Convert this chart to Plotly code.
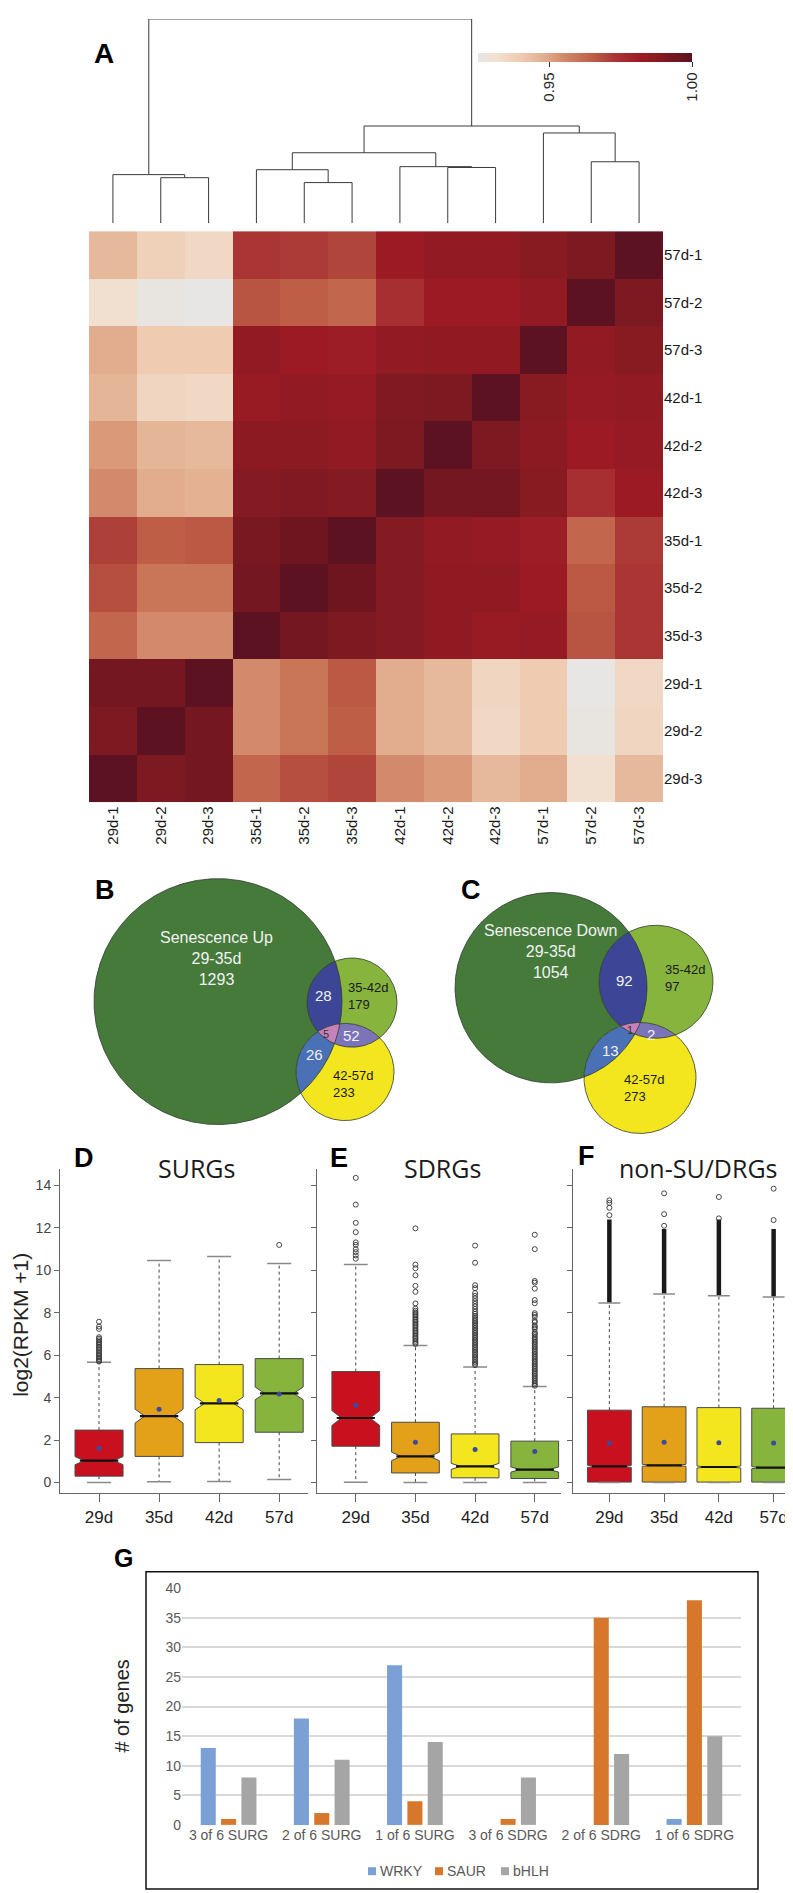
import numpy as np
import plotly.graph_objects as go

W, H = 793, 1893
FONT = 'Liberation Sans, Arial, sans-serif'


def fx(x):
    return x / W


def fy(y):
    return 1 - y / H


# ---------------- A: sample correlation heatmap ----------------
col_labels = ['29d-1', '29d-2', '29d-3', '35d-1', '35d-2', '35d-3',
              '42d-1', '42d-2', '42d-3', '57d-1', '57d-2', '57d-3']
row_labels = ['57d-1', '57d-2', '57d-3', '42d-1', '42d-2', '42d-3',
              '35d-1', '35d-2', '35d-3', '29d-1', '29d-2', '29d-3']
corr = [
    [0.945, 0.938, 0.935, 0.973, 0.972, 0.970, 0.982, 0.985, 0.985, 0.988, 0.991, 1.000],
    [0.932, 0.926, 0.925, 0.967, 0.965, 0.963, 0.975, 0.982, 0.982, 0.985, 1.000, 0.991],
    [0.948, 0.940, 0.940, 0.985, 0.982, 0.981, 0.985, 0.986, 0.986, 1.000, 0.985, 0.988],
    [0.946, 0.936, 0.935, 0.983, 0.985, 0.984, 0.990, 0.991, 1.000, 0.988, 0.984, 0.985],
    [0.952, 0.946, 0.945, 0.987, 0.987, 0.985, 0.991, 1.000, 0.991, 0.987, 0.982, 0.984],
    [0.955, 0.948, 0.947, 0.989, 0.990, 0.989, 1.000, 0.993, 0.993, 0.988, 0.975, 0.982],
    [0.971, 0.965, 0.966, 0.992, 0.995, 1.000, 0.989, 0.985, 0.984, 0.981, 0.963, 0.972],
    [0.968, 0.960, 0.960, 0.993, 1.000, 0.995, 0.989, 0.986, 0.986, 0.982, 0.966, 0.973],
    [0.963, 0.955, 0.955, 1.000, 0.993, 0.991, 0.989, 0.986, 0.983, 0.984, 0.967, 0.973],
    [0.993, 0.993, 1.000, 0.955, 0.960, 0.966, 0.948, 0.945, 0.936, 0.940, 0.925, 0.935],
    [0.991, 1.000, 0.993, 0.955, 0.960, 0.965, 0.948, 0.945, 0.935, 0.940, 0.926, 0.936],
    [1.000, 0.991, 0.993, 0.963, 0.968, 0.970, 0.955, 0.952, 0.945, 0.948, 0.932, 0.945],
]
cbar_ticks = [0.95, 1.00]
ZMIN, ZMAX = 0.925, 1.0

# column dendrogram: (left node, right node, height); leaves 0..11, new nodes from 12
dendro_merges = [
    (1, 2, 0.223),
    (0, 12, 0.238),
    (4, 5, 0.199),
    (3, 14, 0.262),
    (7, 8, 0.273),
    (6, 16, 0.277),
    (15, 17, 0.345),
    (10, 11, 0.301),
    (9, 19, 0.442),
    (18, 20, 0.476),
    (13, 21, 1.000),
]

# ---------------- B / C: Venn counts ----------------
# order: big only, mid only, low only, big&mid, big&low, mid&low, all three
venn_b_counts = [1293, 179, 233, 28, 26, 52, 5]
venn_c_counts = [1054, 97, 273, 92, 13, 2, 1]
venn_b_name = 'Senescence Up'
venn_c_name = 'Senescence Down'
venn_sets = ['29-35d', '35-42d', '42-57d']

# ---------------- D / E / F: boxplots ----------------
days = ['29d', '35d', '42d', '57d']

surg_q1 = [0.30, 1.23, 1.88, 2.37]
surg_med = [1.03, 3.13, 3.73, 4.20]
surg_q3 = [2.47, 5.37, 5.56, 5.84]
surg_lo = [0.00, 0.03, 0.05, 0.14]
surg_hi = [5.67, 10.47, 10.65, 10.32]
surg_mean = [1.62, 3.45, 3.87, 4.17]
surg_notch = [0.19, 0.33, 0.30, 0.30]
surg_out = [
    [7.58, 7.35, 7.24, 6.85, 6.78, 6.70, 6.62, 6.55, 6.48, 6.40, 6.33, 6.26,
     6.18, 6.10, 6.03, 5.96, 5.89, 5.82, 5.75, 5.70],
    [], [], [11.20],
]

sdrg_q1 = [1.71, 0.45, 0.22, 0.19]
sdrg_med = [3.04, 1.23, 0.76, 0.61]
sdrg_q3 = [5.23, 2.84, 2.29, 1.95]
sdrg_lo = [0.01, 0.00, 0.00, 0.00]
sdrg_hi = [10.28, 6.46, 5.45, 4.52]
sdrg_mean = [3.64, 1.90, 1.56, 1.46]
sdrg_notch = [0.35, 0.20, 0.14, 0.12]
sdrg_out = [
    [14.36, 13.10, 12.24, 11.80, 11.32, 11.20, 11.00, 10.86, 10.70, 10.55],
    [11.98, 10.27, 10.10, 9.77, 9.27, 8.99, 8.44, 8.20, 8.10, 8.02, 7.95, 7.88,
     7.80, 7.72, 7.65, 7.58, 7.50, 7.43, 7.36, 7.28, 7.20, 7.13, 7.06, 6.98,
     6.90, 6.83, 6.76, 6.68, 6.60, 6.53],
    [11.17, 10.36, 9.30, 9.16, 8.93, 8.80, 8.68, 8.55, 8.42, 8.30, 8.18, 8.05,
     7.95, 7.85, 7.76, 7.68, 7.60, 7.52, 7.44, 7.36, 7.28, 7.20, 7.12, 7.04,
     6.96, 6.88, 6.80, 6.72, 6.64, 6.56, 6.48, 6.40, 6.32, 6.24, 6.16, 6.08,
     6.00, 5.92, 5.84, 5.76, 5.68, 5.60, 5.53],
    [11.68, 11.00, 9.50, 9.42, 9.14, 8.60, 8.45, 7.98, 7.90, 7.80, 7.62, 7.55,
     7.40, 7.32, 7.25, 7.10, 7.02, 6.95, 6.85, 6.78, 6.70, 6.62, 6.55, 6.46,
     6.38, 6.30, 6.22, 6.14, 6.06, 5.98, 5.90, 5.82, 5.74, 5.66, 5.58, 5.50,
     5.42, 5.34, 5.26, 5.18, 5.10, 5.02, 4.94, 4.86, 4.78, 4.70, 4.62, 4.56],
]

nonsu_q1 = [0.02, 0.02, 0.02, 0.02]
nonsu_med = [0.76, 0.81, 0.73, 0.70]
nonsu_q3 = [3.41, 3.57, 3.53, 3.50]
nonsu_lo = [0.00, 0.00, 0.00, 0.00]
nonsu_hi = [8.46, 8.88, 8.80, 8.74]
nonsu_mean = [1.85, 1.90, 1.87, 1.86]
nonsu_notch = [0.05, 0.05, 0.05, 0.05]
nonsu_out = [[13.30, 13.18, 12.95, 12.60], [13.63, 12.65, 12.10],
             [13.46, 12.45], [13.85, 12.37]]
# ranges packed so tightly with outliers that they read as a solid column
nonsu_dense_lo = [8.50, 8.92, 8.84, 8.78]
nonsu_dense_hi = [12.40, 11.95, 12.40, 11.95]

# ---------------- G: gene family counts ----------------
g_groups = ['3 of 6 SURG', '2 of 6 SURG', '1 of 6 SURG',
            '3 of 6 SDRG', '2 of 6 SDRG', '1 of 6 SDRG']
g_families = ['WRKY', 'SAUR', 'bHLH']
wrky = [13, 18, 27, 0, 0, 1]
saur = [1, 2, 4, 1, 35, 38]
bhlh = [8, 11, 14, 8, 12, 15]

# ---------------- styles ----------------
heat_stops = [
    (0.925, '#e7e6e4'), (0.932, '#f1e0d0'), (0.936, '#f0d5c0'), (0.940, '#eecbb1'),
    (0.945, '#e7b99c'), (0.948, '#e2ad8f'), (0.952, '#da9a7a'), (0.955, '#d3896b'),
    (0.960, '#c87558'), (0.965, '#be5e46'), (0.970, '#b0453c'), (0.973, '#aa3535'),
    (0.976, '#a52b2f'), (0.982, '#9b1a24'), (0.985, '#921a22'), (0.988, '#881a22'),
    (0.991, '#7c1921'), (0.994, '#721620'), (1.000, '#5c1220'),
]
colorscale = [[(v - ZMIN) / (ZMAX - ZMIN), c] for v, c in heat_stops]
BOX_COLORS = ['#c8101e', '#e3a11a', '#f4e61e', '#86b43c']
FAM_COLORS = ['#7aa0d6', '#d7772c', '#a5a5a5']

fig = go.Figure()

# heatmap
fig.add_trace(go.Heatmap(
    z=corr, x=col_labels, y=row_labels, colorscale=colorscale, zmin=ZMIN, zmax=ZMAX,
    xaxis='x', yaxis='y', hoverinfo='skip',
    colorbar=dict(orientation='h', x=fx(577), xanchor='center', y=fy(37), yanchor='top',
                  len=fx(214), lenmode='fraction', thickness=9, thicknessmode='pixels',
                  tickvals=cbar_ticks, ticktext=['%.2f' % t for t in cbar_ticks],
                  ticks='outside', ticklen=5, tickcolor='#333', tickangle=-90,
                  tickfont=dict(size=15, color='#222'), outlinewidth=0, xpad=0, ypad=0),
))

# dendrogram
node_x = {i: float(i) for i in range(len(col_labels))}
node_h = {i: 0.0 for i in range(len(col_labels))}
dx, dy = [], []
for k, (a, b, h) in enumerate(dendro_merges):
    nid = len(col_labels) + k
    dx += [node_x[a], node_x[a], node_x[b], node_x[b], None]
    dy += [node_h[a], h, h, node_h[b], None]
    node_x[nid] = (node_x[a] + node_x[b]) / 2
    node_h[nid] = h
fig.add_trace(go.Scatter(x=dx, y=dy, mode='lines', line=dict(color='#3a3a3a', width=1),
                         xaxis='x2', yaxis='y2', hoverinfo='skip'))

# Venn diagrams (pixel axis x3/y3)
VENN_B = [(210, 994, 124), (344, 995, 45), (337, 1065, 49)]
VENN_C = [(543, 980, 96), (648, 974, 57), (632, 1071, 56)]
CIRCLE_COLORS = ['#457a3b', '#86b43d', '#f3e61f']
LENS = [((0, 1), '#3d4696'), ((0, 2), '#4a70b6'), ((1, 2), '#7c74b9'), ((0, 1, 2), '#c781b9')]


def circle_xy(c, n=720):
    t = np.linspace(0, 2 * np.pi, n)
    return c[0] + c[2] * np.cos(t), c[1] + c[2] * np.sin(t)


def lens_xy(circles, n=2880):
    xs, ys = [], []
    for i, c in enumerate(circles):
        t = np.linspace(0, 2 * np.pi, n, endpoint=False)
        px, py = c[0] + c[2] * np.cos(t), c[1] + c[2] * np.sin(t)
        keep = np.ones(n, bool)
        for j, o in enumerate(circles):
            if j != i:
                keep &= (px - o[0]) ** 2 + (py - o[1]) ** 2 <= o[2] ** 2 + 1e-6
        xs.append(px[keep])
        ys.append(py[keep])
    xs, ys = np.concatenate(xs), np.concatenate(ys)
    order = np.argsort(np.arctan2(ys - ys.mean(), xs - xs.mean()))
    xs, ys = xs[order], ys[order]
    return list(xs) + [xs[0]], list(ys) + [ys[0]]


for circles in (VENN_B, VENN_C):
    for c, col in zip(circles, CIRCLE_COLORS):
        cx_, cy_ = circle_xy(c)
        fig.add_trace(go.Scatter(x=cx_, y=cy_, mode='lines', fill='toself', fillcolor=col,
                                 line=dict(width=0), xaxis='x3', yaxis='y3', hoverinfo='skip'))
    for idx, col in LENS:
        lx, ly = lens_xy([circles[i] for i in idx])
        fig.add_trace(go.Scatter(x=lx, y=ly, mode='lines', fill='toself', fillcolor=col,
                                 line=dict(width=0), xaxis='x3', yaxis='y3', hoverinfo='skip'))
    for c in circles:
        cx_, cy_ = circle_xy(c)
        fig.add_trace(go.Scatter(x=cx_, y=cy_, mode='lines', line=dict(color='#2f3a2f', width=0.8),
                                 xaxis='x3', yaxis='y3', hoverinfo='skip'))

annotations = []


def px_text(x, y, text, size=15, color='#f2f2f2', xanchor='center', align='center'):
    annotations.append(dict(x=x, y=y, xref='x3', yref='y3', text=text, showarrow=False,
                            xanchor=xanchor, yanchor='middle', align=align,
                            font=dict(size=size, color=color, family=FONT)))


def venn_labels(counts, name, pos):
    px_text(*pos[0], '%s<br>%s<br>%d' % (name, venn_sets[0], counts[0]), size=16)
    px_text(*pos[1], '%s<br>%d' % (venn_sets[1], counts[1]), size=13, color='#1a1a1a',
            xanchor='left', align='left')
    px_text(*pos[2], '%s<br>%d' % (venn_sets[2], counts[2]), size=13, color='#1a1a1a',
            xanchor='left', align='left')
    px_text(*pos[3], str(counts[3]), size=15)
    px_text(*pos[4], str(counts[4]), size=15)
    px_text(*pos[5], str(counts[5]), size=15)
    px_text(*pos[6], str(counts[6]), size=11, color='#333')


venn_labels(venn_b_counts, venn_b_name,
            [(208, 951), (338, 988), (323, 1077), (315, 988), (306, 1047), (343, 1028), (318, 1027)])
venn_labels(venn_c_counts, venn_c_name,
            [(542, 943), (655, 970), (614, 1081), (616, 973), (602, 1043), (643, 1027), (622, 1023)])

# boxplot panels


def box_panel(n, q1, med, q3, lo, hi, mean, notch, outliers, dense_lo=None, dense_hi=None):
    xa, ya = 'x%d' % n, 'y%d' % n
    for i in range(len(days)):
        fig.add_trace(go.Box(
            x=[i + 1], q1=[q1[i]], median=[med[i]], q3=[q3[i]],
            lowerfence=[q1[i]], upperfence=[q3[i]], notchspan=[notch[i]],
            notched=True, notchwidth=0.2, width=0.8, whiskerwidth=0, boxpoints=False,
            fillcolor=BOX_COLORS[i], line=dict(color='#4a4a4a', width=1),
            xaxis=xa, yaxis=ya, hoverinfo='skip'))
    wx, wy, cx, cy, mx, my, ox, oy = [], [], [], [], [], [], [], []
    for i in range(len(days)):
        p = i + 1
        wx += [p, p, None, p, p, None]
        wy += [q3[i], hi[i], None, q1[i], lo[i], None]
        cx += [p - 0.2, p + 0.2, None, p - 0.2, p + 0.2, None]
        cy += [hi[i], hi[i], None, lo[i], lo[i], None]
        mx += [p - 0.32, p + 0.32, None]
        my += [med[i], med[i], None]
        ox += [p] * len(outliers[i])
        oy += outliers[i]
    fig.add_trace(go.Scatter(x=wx, y=wy, mode='lines', line=dict(color='#444', width=1, dash='dot'),
                             xaxis=xa, yaxis=ya, hoverinfo='skip'))
    fig.add_trace(go.Scatter(x=cx, y=cy, mode='lines', line=dict(color='#8a8a8a', width=1.5),
                             xaxis=xa, yaxis=ya, hoverinfo='skip'))
    fig.add_trace(go.Scatter(x=mx, y=my, mode='lines', line=dict(color='#111', width=2.2),
                             xaxis=xa, yaxis=ya, hoverinfo='skip'))
    if dense_lo is not None:
        bx, by = [], []
        for i in range(len(days)):
            bx += [i + 1, i + 1, None]
            by += [dense_lo[i], dense_hi[i], None]
        fig.add_trace(go.Scatter(x=bx, y=by, mode='lines', line=dict(color='#1a1a1a', width=4.5),
                                 xaxis=xa, yaxis=ya, hoverinfo='skip'))
    fig.add_trace(go.Scatter(x=ox, y=oy, mode='markers',
                             marker=dict(symbol='circle-open', size=5, color='#333',
                                         line=dict(width=0.9)),
                             xaxis=xa, yaxis=ya, hoverinfo='skip'))
    fig.add_trace(go.Scatter(x=list(range(1, len(days) + 1)), y=mean, mode='markers',
                             marker=dict(size=5, color='#3b4a9e'),
                             xaxis=xa, yaxis=ya, hoverinfo='skip'))


box_panel(4, surg_q1, surg_med, surg_q3, surg_lo, surg_hi, surg_mean, surg_notch, surg_out)
box_panel(5, sdrg_q1, sdrg_med, sdrg_q3, sdrg_lo, sdrg_hi, sdrg_mean, sdrg_notch, sdrg_out)
box_panel(6, nonsu_q1, nonsu_med, nonsu_q3, nonsu_lo, nonsu_hi, nonsu_mean, nonsu_notch, nonsu_out,
          nonsu_dense_lo, nonsu_dense_hi)

# G bars
for fam, vals, col in zip(g_families, [wrky, saur, bhlh], FAM_COLORS):
    fig.add_trace(go.Bar(x=g_groups, y=vals, name=fam, marker=dict(color=col, line=dict(width=0)),
                         xaxis='x7', yaxis='y7', hoverinfo='skip'))

# manual legend for G
leg_x = [364, 431, 497]
fig.add_trace(go.Scatter(x=leg_x, y=[1871] * 3, mode='markers',
                         marker=dict(symbol='square', size=8, color=FAM_COLORS),
                         xaxis='x3', yaxis='y3', hoverinfo='skip'))
for lx, fam in zip(leg_x, g_families):
    px_text(lx + 6, 1871, fam, size=14, color='#595959', xanchor='left')

# panel letters and titles
letters = [('A', 96, 38, 28), ('B', 97, 881, 27), ('C', 463, 881, 27), ('D', 76, 1152, 27),
           ('E', 331, 1152, 27), ('F', 578, 1150, 27), ('G', 115, 1555, 25)]
for t, x, y, s in letters:
    annotations.append(dict(x=fx(x), y=fy(y), xref='paper', yref='paper', text='<b>%s</b>' % t,
                            showarrow=False, xanchor='center', yanchor='middle',
                            font=dict(size=s, color='#000', family=FONT)))
for t, x in [('SURGs', 188), ('SDRGs', 434), ('non-SU/DRGs', 690)]:
    annotations.append(dict(x=fx(x), y=fy(1162), xref='paper', yref='paper', text=t,
                            showarrow=False, xanchor='center', yanchor='middle',
                            font=dict(size=25, color='#1a1a1a', family='Open Sans, sans-serif')))
annotations.append(dict(x=fx(13), y=fy(1320), xref='paper', yref='paper', text='log2(RPKM +1)',
                        textangle=-90, showarrow=False, xanchor='center', yanchor='middle',
                        font=dict(size=21, color='#222', family=FONT)))
annotations.append(dict(x=fx(114), y=fy(1705), xref='paper', yref='paper', text='# of genes',
                        textangle=-90, showarrow=False, xanchor='center', yanchor='middle',
                        font=dict(size=20, color='#222', family=FONT)))

hidden = dict(visible=False, showgrid=False, zeroline=False)
box_y = dict(domain=[fy(1490), fy(1163)], range=[-0.514, 14.77], tickvals=list(range(0, 15, 2)),
             ticks='outside', ticklen=5, tickcolor='#666', showline=True, linecolor='#666',
             linewidth=1, showgrid=False, zeroline=False, tickfont=dict(size=14, color='#444'))
box_x = dict(tickvals=[1, 2, 3, 4], ticktext=days, ticks='outside', ticklen=8, tickcolor='#666',
             showline=True, linecolor='#666', linewidth=1, showgrid=False, zeroline=False,
             tickfont=dict(size=17, color='#222'))

fig.update_layout(
    width=W, height=H, margin=dict(l=0, r=0, t=0, b=0),
    paper_bgcolor='white', plot_bgcolor='rgba(0,0,0,0)',
    font=dict(family=FONT, color='#222'), showlegend=False,
    barmode='group', bargap=0.345, bargroupgap=0.26,
    xaxis=dict(domain=[fx(81), fx(655)], anchor='y', tickangle=-90, ticks='',
               tickfont=dict(size=15, color='#1a1a1a'), showgrid=False, zeroline=False),
    yaxis=dict(domain=[fy(793), fy(217)], anchor='x', side='right', autorange='reversed',
               ticks='', tickfont=dict(size=15, color='#1a1a1a'), showgrid=False, zeroline=False),
    xaxis2=dict(domain=[fx(81), fx(655)], anchor='y2', range=[-0.5, 11.5], **hidden),
    yaxis2=dict(domain=[fy(209), fy(3)], anchor='x2', range=[0, 1], **hidden),
    xaxis3=dict(domain=[0, 1], anchor='y3', range=[0, W], **hidden),
    yaxis3=dict(domain=[0, 1], anchor='x3', range=[H, 0], **hidden),
    xaxis4=dict(domain=[fx(52), fx(300)], anchor='y4', range=[0.35, 4.48], **box_x),
    yaxis4=dict(anchor='x4', **box_y),
    xaxis5=dict(domain=[fx(309), fx(553)], anchor='y5', range=[0.35, 4.44], **box_x),
    yaxis5=dict(anchor='x5', showticklabels=False, **box_y),
    xaxis6=dict(domain=[fx(565), fx(793)], anchor='y6', range=[0.336, 4.5], **box_x),
    yaxis6=dict(anchor='x6', showticklabels=False, **box_y),
    xaxis7=dict(domain=[fx(174), fx(733)], anchor='y7', range=[-0.5, 5.5], ticks='',
                showgrid=False, zeroline=False, showline=False,
                tickfont=dict(size=14, color='#595959')),
    yaxis7=dict(domain=[fy(1824.3), fy(1585.7)], anchor='x7', range=[0, 40], dtick=5,
                showgrid=True, gridcolor='#d9d9d9', gridwidth=2, zeroline=False, ticks='',
                tickfont=dict(size=14, color='#595959')),
    annotations=annotations,
    shapes=[dict(type='rect', xref='paper', yref='paper', x0=fx(138), x1=fx(750),
                 y0=fy(1889), y1=fy(1569), line=dict(color='#111', width=1.5))],
)

fig.write_html('out.html')
